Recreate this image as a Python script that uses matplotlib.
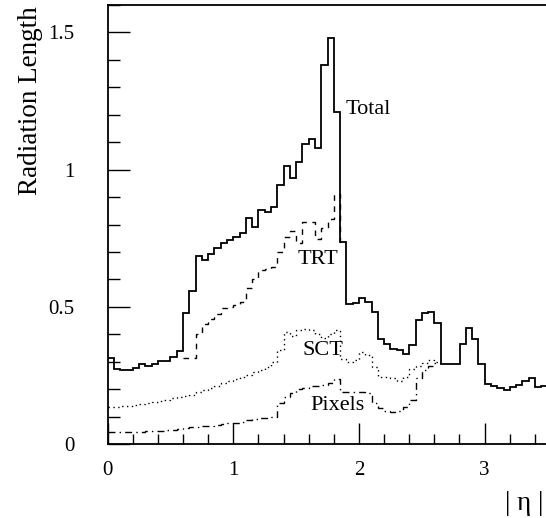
import numpy as np
import matplotlib
matplotlib.use("Agg")
from matplotlib import pyplot as plt
from matplotlib.ticker import MultipleLocator

plt.rcParams['font.family'] = ['Liberation Serif', 'DejaVu Serif']

# eta binning: 70 bins of 0.05 from 0 to 3.5
bin_width = 0.05
n_bins = 70

# cumulative radiation length per bin
total = [0.314, 0.274, 0.271, 0.271, 0.278, 0.292, 0.285, 0.292, 0.303, 0.303,
         0.316, 0.339, 0.478, 0.558, 0.684, 0.670, 0.692, 0.713, 0.733, 0.745,
         0.756, 0.768, 0.823, 0.792, 0.853, 0.845, 0.865, 0.944, 1.015, 0.971,
         1.026, 1.094, 1.111, 1.079, 1.381, 1.481, 1.209, 0.735, 0.512, 0.515,
         0.533, 0.518, 0.480, 0.384, 0.365, 0.346, 0.343, 0.328, 0.359, 0.451,
         0.479, 0.481, 0.441, 0.290, 0.290, 0.290, 0.366, 0.424, 0.381, 0.292,
         0.219, 0.211, 0.203, 0.195, 0.207, 0.215, 0.228, 0.240, 0.207, 0.210]

# TRT curve, only where it separates from the total (bins 12..37)
trt_first = 12
trt = [0.314, 0.314, 0.400, 0.439, 0.455, 0.475, 0.494, 0.500, 0.507, 0.518,
       0.570, 0.600, 0.634, 0.636, 0.646, 0.700, 0.755, 0.775, 0.733, 0.808,
       0.808, 0.748, 0.786, 0.821, 0.911, 0.735]

# SCT curve (bins 0..52)
sct_first = 0
sct = [0.136, 0.136, 0.138, 0.140, 0.143, 0.146, 0.150, 0.154, 0.158, 0.162,
       0.166, 0.170, 0.175, 0.180, 0.188, 0.195, 0.203, 0.213, 0.222, 0.231,
       0.238, 0.246, 0.250, 0.262, 0.268, 0.280, 0.298, 0.341, 0.408, 0.395,
       0.414, 0.420, 0.415, 0.400, 0.385, 0.400, 0.414, 0.310, 0.300, 0.305,
       0.335, 0.323, 0.280, 0.244, 0.244, 0.240, 0.231, 0.244, 0.274, 0.286,
       0.295, 0.307, 0.300]

# Pixels curve (bins 0..52)
pix_first = 0
pixels = [0.042, 0.042, 0.042, 0.043, 0.044, 0.045, 0.046, 0.047, 0.049, 0.050,
          0.052, 0.054, 0.058, 0.061, 0.063, 0.065, 0.067, 0.070, 0.073, 0.075,
          0.077, 0.082, 0.088, 0.092, 0.094, 0.096, 0.100, 0.150, 0.170, 0.185,
          0.200, 0.205, 0.213, 0.213, 0.215, 0.222, 0.238, 0.190, 0.190, 0.190,
          0.190, 0.185, 0.150, 0.130, 0.120, 0.116, 0.120, 0.134, 0.160, 0.240,
          0.270, 0.285, 0.295]

labels = ["Total", "TRT", "SCT", "Pixels"]
label_pos = [(1.89, 1.22), (1.51, 0.672), (1.55, 0.342), (1.61, 0.142)]


def edges_for(first, vals):
    return bin_width * np.arange(first, first + len(vals) + 1)


fig = plt.figure(figsize=(5.46, 5.18), dpi=100)
ax = fig.add_axes([107.5 / 546, 74 / 518, 440 / 546, 439 / 518])

ax.stairs(pixels, edges_for(pix_first, pixels), baseline=None,
          color='black', lw=1.0, linestyle=(0, (5, 3, 1, 3)))
ax.stairs(sct, edges_for(sct_first, sct), baseline=None,
          color='black', lw=1.0, linestyle=(0, (1, 2.5)))
ax.stairs(trt, edges_for(trt_first, trt), baseline=None,
          color='black', lw=1.0, linestyle=(0, (4, 4)))
ax.stairs(total, edges_for(0, total), baseline=None,
          color='black', lw=1.3)

for txt, (x, y) in zip(labels, label_pos):
    ax.text(x, y, txt, fontsize=16, ha='left', va='center')

ax.set_xlim(0, n_bins * bin_width)
ax.set_ylim(0, 1.6)
ax.xaxis.set_major_locator(MultipleLocator(1))
ax.xaxis.set_minor_locator(MultipleLocator(0.2))
ax.yaxis.set_major_locator(MultipleLocator(0.5))
ax.yaxis.set_minor_locator(MultipleLocator(0.1))
ax.xaxis.set_major_formatter(plt.FuncFormatter(lambda v, p: f"{v:g}"))
ax.yaxis.set_major_formatter(plt.FuncFormatter(lambda v, p: f"{v:g}"))

ax.tick_params(which='both', direction='in', top=False, right=False,
               labelsize=15, width=1.0)
ax.tick_params(axis='y', which='major', length=16, pad=24)
ax.tick_params(axis='y', which='minor', length=8.5)
ax.tick_params(axis='x', which='major', length=15, pad=12)
ax.tick_params(axis='x', which='minor', length=7.5)

for side in ['left', 'bottom', 'top']:
    ax.spines[side].set_linewidth(1.3)
ax.spines['right'].set_visible(False)

fig.text(31 / 546, 1 - 6 / 518, "Radiation Length", rotation=90,
         ha='center', va='top', fontsize=19.5)
fig.text(543 / 546, 1 - 510 / 518, "| η |", ha='right', va='baseline',
         fontsize=19.5)

fig.savefig("out.png", dpi=100)
